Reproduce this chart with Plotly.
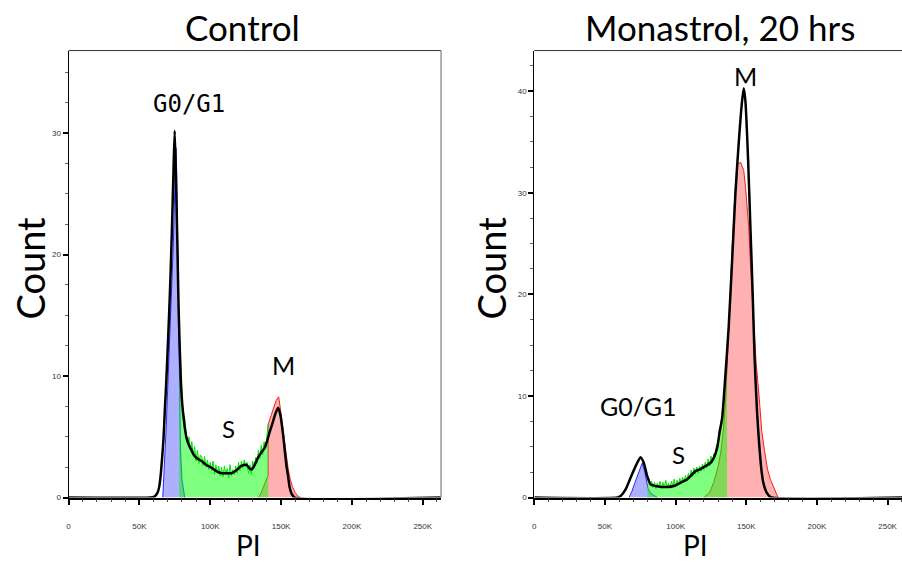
import plotly.graph_objects as go

# ---------------- data (PI in thousands, Count) ----------------
# Control
ctrl_black_x = [0, 58, 60, 61, 62, 63, 64, 65, 66, 67, 68, 69, 70, 71, 72, 73, 74, 74.9,
                75.8, 76.8, 77.7, 79.1, 80.3, 81.2, 82, 83.3, 85, 86.8, 88, 90, 93.9, 97,
                100.9, 104, 108, 112, 115, 118, 122, 125.5, 127, 129, 131, 133.8, 136,
                138.5, 140, 142, 144.4, 146, 147.9, 149.5, 151.4, 152.5, 153.7, 155,
                156.1, 157.5, 159.6, 265]
ctrl_black_y = [0, 0, 0.05, 0.1, 0.25, 0.45, 0.9, 1.8, 3.2, 4.8, 7.3, 9.6, 12.3, 15.2, 18.4,
                22.3, 26.6, 30.2, 26.4, 20.9, 15.5, 10.1, 7.6, 6.6, 5.8, 4.9, 4.3, 3.9, 3.6,
                3.3, 3.0, 2.7, 2.45, 2.2, 2.0, 2.0, 2.0, 2.2, 2.6, 2.7, 2.5, 2.3, 2.6, 3.3,
                3.7, 4.1, 4.6, 5.4, 6.3, 6.9, 7.4, 6.8, 5.2, 4.0, 2.7, 1.7, 0.8, 0.3, 0, 0]

ctrl_g1_x = [66.5, 67, 68, 69, 70, 71, 72, 73, 74, 75, 75.8, 76.3, 76.8, 77.5, 78.2, 79, 80,
             81.5, 82]
ctrl_g1_y = [0, 1.0, 3.2, 6.0, 9.0, 12.0, 14.8, 17.8, 21.0, 25.5, 28.8, 27.0, 22.0, 15.0,
             9.0, 4.0, 1.5, 0.3, 0]

ctrl_s_x = list(range(78, 142))
ctrl_s_y = [14.4, 10.5, 8.4, 7.0, 6.5, 5.3, 4.4, 5.0, 3.9, 4.6, 3.4, 4.2, 3.0, 3.9, 2.8, 3.5,
            3.4, 2.6, 3.4, 2.5, 3.1, 2.3, 2.9, 2.2, 3.0, 1.9, 2.7, 2.0, 2.6, 1.8, 2.5, 1.7,
            2.6, 1.9, 2.4, 1.6, 2.7, 1.8, 2.3, 1.9, 2.6, 2.0, 2.9, 2.2, 3.0, 2.4, 3.1, 2.5,
            2.9, 2.0, 2.7, 1.9, 3.0, 2.4, 3.3, 2.8, 3.9, 3.2, 4.3, 3.5, 4.6, 4.0, 5.3, 6.1]

ctrl_m_x = [134, 136, 138, 140.8, 140.8, 142, 143.5, 145, 146.5, 148.3, 149.5, 150.5, 152,
            153.5, 155, 156.5, 158, 160, 162, 163.5]
ctrl_m_y = [0, 0.4, 1.0, 1.8, 6.0, 6.4, 6.9, 7.5, 8.0, 8.3, 7.4, 6.5, 5.0, 3.6, 2.4, 1.5,
            0.9, 0.4, 0.1, 0]

# Monastrol, 20 hrs
mon_black_x = [0, 58.7, 61.1, 64.6, 68.1, 71.7, 75.2, 77.5, 79.9, 82.3, 85.8, 90, 94, 98.7,
               103.5, 108.2, 114, 117.6, 121.1, 124.6, 127, 129.4, 131.2, 132.9, 135.2,
               137.6, 140, 142.3, 144.6, 147, 148.2, 149.4, 151.3, 152.9, 154.5, 155.9,
               157.6, 159, 160.5, 162, 164, 166, 168, 262]
mon_black_y = [0, 0, 0.16, 0.8, 1.95, 3.1, 3.97, 3.4, 2.1, 1.3, 1.14, 1.05, 1.04, 1.14, 1.46,
               1.8, 2.6, 2.8, 3.1, 3.4, 3.9, 4.9, 6.5, 7.8, 12.0, 16.9, 23.4, 29.9, 34.8,
               39.0, 40.3, 39.0, 33.2, 26.7, 20.2, 13.7, 8.5, 5.5, 3.0, 1.5, 0.6, 0.2, 0, 0]

mon_g1_x = [67, 69, 71, 73, 75, 76.4, 78, 79.5, 80.5, 82, 84, 86, 87]
mon_g1_y = [0, 0.6, 1.4, 2.2, 3.0, 3.4, 2.6, 1.6, 0.9, 0.5, 0.25, 0.1, 0]

mon_s_x = list(range(80, 137)) + [136.4]
mon_s_y = [1.7, 1.9, 1.2, 1.6, 1.0, 1.5, 0.9, 1.4, 1.1, 1.6, 0.9, 1.5, 1.0, 1.7, 1.1, 1.4,
           0.9, 1.6, 1.2, 1.8, 1.1, 1.7, 1.3, 1.9, 1.4, 2.0, 1.5, 2.2, 1.6, 2.4, 1.9, 2.7,
           2.1, 2.9, 2.3, 3.0, 2.4, 3.1, 2.6, 3.3, 2.7, 3.5, 2.9, 3.8, 3.1, 4.1, 3.4, 4.3,
           4.0, 5.2, 5.3, 6.8, 7.1, 8.6, 9.3, 11.4, 12.6, 13.0]

mon_m_x = [120, 124, 127, 130, 132, 134, 135.5, 136.4, 138, 140, 142, 143.5, 146, 148.2,
           149.5, 151.7, 153.5, 155.2, 157, 158.8, 161, 163, 165, 167, 169, 171, 172.5]
mon_m_y = [0, 0.5, 1.5, 3.0, 4.5, 7.0, 10.0, 13.0, 18.5, 24.5, 30.0, 32.8, 33.0, 32.2, 30.5,
           26.7, 21.5, 16.9, 13.2, 10.4, 6.5, 4.5, 2.8, 1.8, 1.2, 0.6, 0]

x_tick_vals = [0, 50, 100, 150, 200, 250]
x_tick_text = ["0", "50K", "100K", "150K", "200K", "250K"]
ctrl_y_ticks = [0, 10, 20, 30]
mon_y_ticks = [0, 10, 20, 30, 40]

# ---------------- figure ----------------
K = 1000
BLUE_FILL = "rgba(70,70,255,0.43)"
RED_FILL = "rgba(255,0,0,0.31)"
GREEN_FILL = "rgba(0,255,0,0.5)"

fig = go.Figure()


def add_panel(xa, ya, g1x, g1y, mx, my, sx, sy, bx, by):
    fig.add_trace(go.Scatter(x=[v * K for v in g1x], y=g1y, mode="lines", fill="tozeroy",
                             fillcolor=BLUE_FILL, line=dict(color="rgb(40,40,255)", width=1),
                             xaxis=xa, yaxis=ya, hoverinfo="skip"))
    fig.add_trace(go.Scatter(x=[v * K for v in mx], y=my, mode="lines", fill="tozeroy",
                             fillcolor=RED_FILL, line=dict(color="rgb(240,30,30)", width=1),
                             xaxis=xa, yaxis=ya, hoverinfo="skip"))
    fig.add_trace(go.Scatter(x=[v * K for v in sx], y=sy, mode="lines", fill="tozeroy",
                             fillcolor=GREEN_FILL, line=dict(color="rgb(0,230,0)", width=1),
                             xaxis=xa, yaxis=ya, hoverinfo="skip"))
    fig.add_trace(go.Scatter(x=[v * K for v in bx], y=by, mode="lines",
                             line=dict(color="black", width=2.5, shape="spline", smoothing=0.6),
                             xaxis=xa, yaxis=ya, hoverinfo="skip"))


add_panel("x", "y", ctrl_g1_x, ctrl_g1_y, ctrl_m_x, ctrl_m_y, ctrl_s_x, ctrl_s_y,
          ctrl_black_x, ctrl_black_y)
add_panel("x2", "y2", mon_g1_x, mon_g1_y, mon_m_x, mon_m_y, mon_s_x, mon_s_y,
          mon_black_x, mon_black_y)

tickfont = dict(family="Liberation Sans, Arial", size=8, color="#333")


def xaxis_cfg(domain, rng):
    return dict(domain=domain, range=rng, showgrid=False, zeroline=False,
                showline=True, linecolor="black", linewidth=1.5,
                tickmode="array", tickvals=[v * K for v in x_tick_vals], ticktext=x_tick_text,
                ticks="outside", ticklen=6, tickwidth=1.5, tickcolor="black",
                ticklabelstandoff=14, tickfont=tickfont,
                minor=dict(dtick=10 * K, tick0=0, ticks="outside", ticklen=3,
                           tickcolor="#444", tickwidth=1, showgrid=False))


def yaxis_cfg(domain, rng, ticks, anchor):
    return dict(domain=domain, range=rng, showgrid=False, zeroline=False, anchor=anchor,
                showline=True, linecolor="black", linewidth=1,
                tickmode="array", tickvals=ticks, ticks="outside", ticklen=5, tickwidth=1.5,
                tickcolor="black", tickfont=tickfont,
                minor=dict(dtick=2.5, tick0=0, ticks="outside", ticklen=3,
                           tickcolor="#666", tickwidth=1, showgrid=False))


ydom = [1 - 502 / 565, 1 - 51 / 565]
fig.update_layout(
    width=902, height=565, autosize=False,
    margin=dict(l=0, r=0, t=0, b=0),
    paper_bgcolor="white", plot_bgcolor="white",
    showlegend=False,
    xaxis=xaxis_cfg([66.7 / 902, 440 / 902], [0, 262.9 * K]),
    yaxis=yaxis_cfg(ydom, [0, 36.8], ctrl_y_ticks, "x"),
    xaxis2=dict(xaxis_cfg([533.5 / 902, 1.0], [0, 260.2 * K]), anchor="y2"),
    yaxis2=yaxis_cfg(ydom, [0, 44.0], mon_y_ticks, "x2"),
)
fig.layout.xaxis.anchor = "y"

# frames (top/right borders)
fig.add_shape(type="line", xref="x domain", yref="y domain", x0=0, x1=1, y0=1, y1=1,
              line=dict(color="#333", width=1))
fig.add_shape(type="line", xref="x domain", yref="y domain", x0=1, x1=1, y0=0, y1=1,
              line=dict(color="#999", width=1.5))
fig.add_shape(type="line", xref="x2 domain", yref="y2 domain", x0=0, x1=1, y0=1, y1=1,
              line=dict(color="#333", width=1))

big = "Lato, Open Sans, sans-serif"
anns = [
    dict(text="Control", x=241 / 902, y=1 - 27 / 565, size=35),
    dict(text="Monastrol, 20 hrs", x=720 / 902, y=1 - 27 / 565, size=35),
    dict(text="PI", x=247 / 902, y=1 - 550 / 565, size=28),
    dict(text="PI", x=695 / 902, y=1 - 550 / 565, size=28),
]
for a in anns:
    fig.add_annotation(text=a["text"], xref="paper", yref="paper", x=a["x"], y=a["y"],
                       showarrow=False, font=dict(family=big, size=a["size"], color="black"),
                       xanchor="center", yanchor="middle")
for xp in [28 / 902, 490 / 902]:
    fig.add_annotation(text="Count", xref="paper", yref="paper", x=xp, y=1 - 270 / 565,
                       showarrow=False, textangle=-90,
                       font=dict(family=big, size=38, color="black"),
                       xanchor="center", yanchor="middle")

labels = [
    ("G0/G1", "x", "y", 85, 32.4, "DejaVu Sans Mono, monospace", 24),
    ("S", "x", "y", 113.2, 5.7, big, 24),
    ("M", "x", "y", 152, 10.9, big, 25),
    ("G0/G1", "x2", "y2", 73.8, 9.0, big, 25),
    ("S", "x2", "y2", 102, 4.2, big, 24),
    ("M", "x2", "y2", 149.4, 41.5, big, 25),
]
for t, xr, yr, xv, yv, fam, sz in labels:
    fig.add_annotation(text=t, xref=xr, yref=yr, x=xv * K, y=yv, showarrow=False,
                       font=dict(family=fam, size=sz, color="black"),
                       xanchor="center", yanchor="middle")

fig.write_html("out.html")
